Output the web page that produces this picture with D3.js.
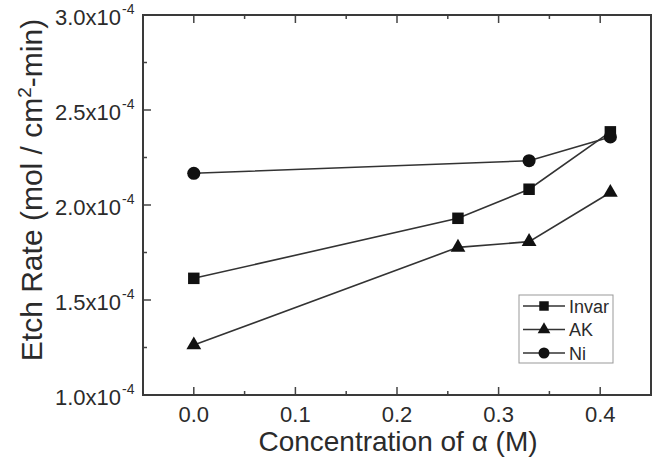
<!DOCTYPE html>
<html>
<head>
<meta charset="utf-8">
<script src="https://cdn.jsdelivr.net/npm/d3@7"></script>
<style>
  html, body { margin: 0; padding: 0; background: #fff; }
  svg { display: block; font-family: "Liberation Sans", Arial, sans-serif; }
</style>
</head>
<body>
<div id="chart"></div>
<script>
// concentration of alpha (M)
const concInvar = [0, 0.26, 0.33, 0.41];
const concAK = [0, 0.26, 0.33, 0.41];
const concNi = [0, 0.33, 0.41];

// etch rate (mol / cm2-min)
const rateInvar = [1.614e-4, 1.930e-4, 2.083e-4, 2.385e-4];
const rateAK = [1.263e-4, 1.777e-4, 1.807e-4, 2.066e-4];
const rateNi = [2.167e-4, 2.233e-4, 2.358e-4];

const xTicks = [0, 0.1, 0.2, 0.3, 0.4];
const xMinor = [0.05, 0.15, 0.25, 0.35];
const yTicks = [1.0e-4, 1.5e-4, 2.0e-4, 2.5e-4, 3.0e-4];
const yMinor = [1.25e-4, 1.75e-4, 2.25e-4, 2.75e-4];

const seriesNames = ["Invar", "AK", "Ni"];

const width = 661, height = 458;
const pLeft = 143, pRight = 651, pTop = 15, pBottom = 395;

const x = d3.scaleLinear().domain([-0.05, 0.45]).range([pLeft, pRight]);
const y = d3.scaleLinear().domain([1.0e-4, 3.0e-4]).range([pBottom, pTop]);

const series = [
  { name: seriesNames[0], xs: concInvar, ys: rateInvar, shape: d3.symbolSquare, size: 132, lsize: 90 },
  { name: seriesNames[1], xs: concAK, ys: rateAK, shape: d3.symbolTriangle, size: 95, lsize: 70 },
  { name: seriesNames[2], xs: concNi, ys: rateNi, shape: d3.symbolCircle, size: 135, lsize: 95 }
];

const svg = d3.select("#chart").append("svg")
  .attr("width", width)
  .attr("height", height);

const ink = "#2b2b2b";

// ticks (inward), bottom + top + left
const tickG = svg.append("g").attr("stroke", "#444").attr("stroke-width", 1.5);
xTicks.forEach(v => {
  tickG.append("line").attr("x1", x(v)).attr("x2", x(v)).attr("y1", pBottom).attr("y2", pBottom - 8);
  tickG.append("line").attr("x1", x(v)).attr("x2", x(v)).attr("y1", pTop).attr("y2", pTop + 8);
});
xMinor.forEach(v => {
  tickG.append("line").attr("x1", x(v)).attr("x2", x(v)).attr("y1", pBottom).attr("y2", pBottom - 4);
  tickG.append("line").attr("x1", x(v)).attr("x2", x(v)).attr("y1", pTop).attr("y2", pTop + 4);
});
yTicks.forEach(v => {
  tickG.append("line").attr("x1", pLeft).attr("x2", pLeft + 8).attr("y1", y(v)).attr("y2", y(v));
});
yMinor.forEach(v => {
  tickG.append("line").attr("x1", pLeft).attr("x2", pLeft + 4).attr("y1", y(v)).attr("y2", y(v));
});

// frame
svg.append("rect")
  .attr("x", pLeft).attr("y", pTop)
  .attr("width", pRight - pLeft).attr("height", pBottom - pTop)
  .attr("fill", "none")
  .attr("stroke", "#3a3a3a")
  .attr("stroke-width", 2);

// x tick labels
svg.append("g")
  .selectAll("text")
  .data(xTicks)
  .join("text")
  .attr("x", d => x(d))
  .attr("y", 422)
  .attr("text-anchor", "middle")
  .attr("font-size", 22)
  .attr("fill", ink)
  .text(d3.format(".1f"));

// y tick labels
svg.append("g")
  .selectAll("text")
  .data(yTicks)
  .join("text")
  .attr("x", 121)
  .attr("y", d => y(d) + 10)
  .attr("text-anchor", "end")
  .attr("font-size", 22)
  .attr("fill", ink)
  .text(d => d3.format(".1f")(d * 1e4) + "x10");

svg.append("g")
  .selectAll("text")
  .data(yTicks)
  .join("text")
  .attr("x", 122)
  .attr("y", d => y(d) - 1)
  .attr("font-size", 14)
  .attr("fill", ink)
  .text("-4");

// axis titles
svg.append("text")
  .attr("x", (pLeft + pRight) / 2 + 1)
  .attr("y", 451)
  .attr("text-anchor", "middle")
  .attr("font-size", 28)
  .attr("fill", ink)
  .text("Concentration of α (M)");

const yt = svg.append("text")
  .attr("transform", `translate(42,190) rotate(-90)`)
  .attr("text-anchor", "middle")
  .attr("font-size", 30)
  .attr("fill", ink);
yt.append("tspan").text("Etch Rate (mol / cm");
yt.append("tspan").attr("font-size", 19).attr("dy", -11).text("2");
yt.append("tspan").attr("dy", 11).text("-min)");

// series lines + markers
const line = d3.line().x(d => x(d[0])).y(d => y(d[1]));
series.forEach(s => {
  const pts = s.xs.map((v, i) => [v, s.ys[i]]);
  svg.append("path")
    .attr("d", line(pts))
    .attr("fill", "none")
    .attr("stroke", "#333")
    .attr("stroke-width", 1.6);
  svg.append("g")
    .selectAll("path")
    .data(pts)
    .join("path")
    .attr("transform", d => `translate(${x(d[0])},${y(d[1])})`)
    .attr("d", d3.symbol().type(s.shape).size(s.size))
    .attr("fill", "#111");
});

// legend
const lg = svg.append("g");
lg.append("rect")
  .attr("x", 519).attr("y", 295)
  .attr("width", 94).attr("height", 68)
  .attr("fill", "#fff")
  .attr("stroke", "#999")
  .attr("stroke-width", 1);
series.forEach((s, i) => {
  const cy = 306 + i * 23.5;
  lg.append("line")
    .attr("x1", 523).attr("x2", 565)
    .attr("y1", cy).attr("y2", cy)
    .attr("stroke", "#333").attr("stroke-width", 1.6);
  lg.append("path")
    .attr("transform", `translate(544,${cy})`)
    .attr("d", d3.symbol().type(s.shape).size(s.lsize))
    .attr("fill", "#111");
  lg.append("text")
    .attr("x", 569).attr("y", cy + 6.5)
    .attr("font-size", 18)
    .attr("fill", ink)
    .text(s.name);
});
</script>
</body>
</html>
